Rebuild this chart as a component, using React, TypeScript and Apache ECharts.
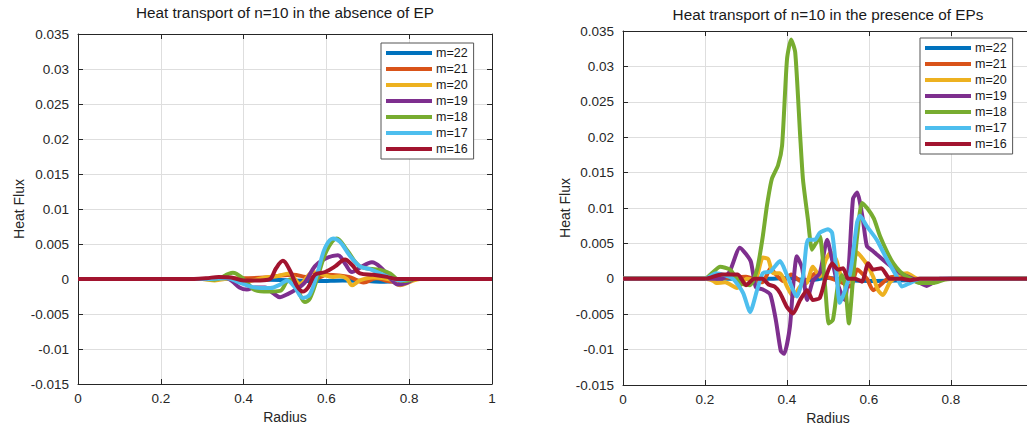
import React, { useEffect, useRef } from "react";
import * as echarts from "echarts";

const seriesNames = ["m=22", "m=21", "m=20", "m=19", "m=18", "m=17", "m=16"];
const seriesColors = ["#0072BD", "#D95319", "#EDB120", "#7E2F8E", "#77AC30", "#4DBEEE", "#A2142F"];
const xTicks = [0, 0.2, 0.4, 0.6, 0.8, 1];
const yTicks = [-0.015, -0.01, -0.005, 0, 0.005, 0.01, 0.015, 0.02, 0.025, 0.03, 0.035];
const leftTitle = "Heat transport of n=10 in the absence of EP";
const rightTitle = "Heat transport of n=10 in the presence of EPs";

// Left panel (absence of EP): [radius, heat flux]
const leftM22 = [[0,0],[0.4,0],[0.46,-0.0001],[0.52,-0.0002],[0.58,-0.0003],[0.64,-0.0002],[0.7,-0.0003],[0.74,-0.0004],[0.78,-0.0002],[0.82,0],[1,0]];
const leftM21 = [[0,0],[0.3,0],[0.4,0.0001],[0.45,0.0002],[0.49,0.0005],[0.52,0.0006],[0.55,0.0003],[0.58,0.0002],[0.6,0.0006],[0.63,0.0005],[0.66,0.0002],[0.69,-0.0005],[0.72,0.0001],[0.75,-0.0003],[0.78,-0.0005],[0.81,0],[1,0]];
const leftM20 = [[0,0],[0.3,0],[0.33,-0.0002],[0.37,0.0001],[0.41,-0.0003],[0.45,0.0002],[0.48,0.0004],[0.51,0.0008],[0.536,-0.0007],[0.568,0.001],[0.592,0.0006],[0.616,0.0003],[0.633,0.0004],[0.65,0],[0.662,-0.0009],[0.681,-0.0002],[0.713,0.0002],[0.754,-0.0001],[0.778,-0.0009],[0.802,-0.0004],[0.826,0],[1,0]];
const leftM19 = [[0,0],[0.3,0],[0.355,0.0002],[0.372,-0.0003],[0.39,-0.0012],[0.408,-0.0015],[0.428,-0.0012],[0.452,-0.0012],[0.471,-0.002],[0.488,-0.0026],[0.505,-0.0022],[0.524,-0.0016],[0.548,-0.0005],[0.572,0.0018],[0.597,0.0029],[0.628,0.0034],[0.645,0.0022],[0.662,0.001],[0.681,0.0016],[0.71,0.0024],[0.734,0.0015],[0.754,0.0001],[0.773,-0.0008],[0.792,-0.0006],[0.814,0],[1,0]];
const leftM18 = [[0,0],[0.3,0],[0.33,-0.0001],[0.374,0.0009],[0.4,0],[0.428,-0.0016],[0.46,-0.0018],[0.488,-0.0017],[0.505,-0.0003],[0.517,0],[0.531,-0.0015],[0.548,-0.0033],[0.56,-0.0028],[0.58,0.0005],[0.6,0.004],[0.625,0.0058],[0.65,0.0041],[0.681,0.0018],[0.73,0.0013],[0.754,0.0008],[0.77,0],[0.79,-0.0003],[0.814,0],[1,0]];
const leftM17 = [[0,0],[0.3,0],[0.36,0.0001],[0.39,-0.0005],[0.428,-0.0012],[0.464,-0.0013],[0.488,-0.0008],[0.505,-0.0002],[0.524,-0.0012],[0.543,-0.0027],[0.56,-0.0022],[0.58,0.0012],[0.597,0.0045],[0.616,0.0058],[0.633,0.0053],[0.657,0.0033],[0.681,0.0018],[0.705,0.0014],[0.73,0.0008],[0.754,0.0002],[0.778,-0.0002],[0.8,0],[1,0]];
const leftM16 = [[0,0],[0.28,0],[0.31,0.0001],[0.34,0.0003],[0.37,0.0002],[0.4,-0.0002],[0.44,-0.0002],[0.464,0],[0.478,0.0015],[0.495,0.0026],[0.512,0.0012],[0.529,-0.001],[0.543,-0.0018],[0.556,-0.0012],[0.572,0.0006],[0.597,0.001],[0.621,0.0018],[0.645,0.0028],[0.662,0.002],[0.681,0.0008],[0.713,0.0006],[0.746,0.0003],[0.77,0],[1,0]];

// Right panel (presence of EPs): [radius, heat flux]
const rightM22 = [[0,0],[0.35,0],[0.4,0.0001],[0.45,-0.0002],[0.5,0.0001],[0.55,-0.0002],[0.6,-0.0003],[0.7,-0.0002],[0.8,0],[1,0]];
const rightM21 = [[0,0],[0.2,0],[0.26,0.0002],[0.3,0.0003],[0.34,-0.0005],[0.36,0.0015],[0.37,0.0008],[0.39,-0.0003],[0.41,0.0006],[0.44,-0.0006],[0.47,0.0008],[0.5,0.0002],[0.53,-0.0004],[0.555,-0.0011],[0.571,0.0013],[0.595,0],[0.61,-0.0016],[0.645,0],[0.66,0.0003],[0.7,0],[1,0]];
const rightM20 = [[0,0],[0.2,0],[0.22,-0.0003],[0.227,-0.0006],[0.249,-0.0005],[0.278,-0.0013],[0.302,0],[0.322,-0.0002],[0.341,0.003],[0.354,0.0028],[0.366,0.0008],[0.383,0.0008],[0.4,-0.0011],[0.415,-0.0025],[0.432,-0.0011],[0.449,-0.0005],[0.463,0.0017],[0.48,0.0003],[0.495,0.0027],[0.507,0.0037],[0.52,0.0027],[0.534,0],[0.549,-0.0005],[0.571,0.0037],[0.593,0.0022],[0.61,0.0003],[0.622,-0.0016],[0.634,-0.0023],[0.651,-0.0005],[0.676,0.0006],[0.693,0.0008],[0.717,0],[0.75,-0.0003],[0.8,0],[1,0]];
const rightM19 = [[0,0],[0.2,0],[0.24,0],[0.26,0.001],[0.285,0.0044],[0.3,0.0035],[0.312,0.0024],[0.324,-0.0012],[0.341,-0.0015],[0.359,-0.0022],[0.373,-0.0059],[0.385,-0.0102],[0.393,-0.0106],[0.407,-0.0068],[0.415,-0.001],[0.424,0.0032],[0.437,0.0015],[0.449,-0.003],[0.463,-0.0003],[0.48,0.0008],[0.498,0.0055],[0.51,0.0027],[0.52,0],[0.529,-0.0016],[0.541,-0.003],[0.551,0.002],[0.561,0.0113],[0.571,0.0122],[0.585,0.0084],[0.595,0.0046],[0.61,0.0039],[0.644,0.0022],[0.676,0.0008],[0.707,0],[0.741,-0.001],[0.773,0],[0.8,0],[1,0]];
const rightM18 = [[0,0],[0.2,0],[0.217,0.0008],[0.237,0.0017],[0.261,0.0013],[0.285,-0.0006],[0.31,-0.0009],[0.327,0.0013],[0.341,0.006],[0.351,0.0103],[0.363,0.0141],[0.378,0.016],[0.388,0.0188],[0.4,0.031],[0.41,0.0338],[0.42,0.032],[0.432,0.0203],[0.439,0.014],[0.451,0.0084],[0.461,0.0041],[0.471,0.0051],[0.48,0.006],[0.493,-0.0011],[0.502,-0.0063],[0.512,-0.0058],[0.524,-0.001],[0.534,0.0005],[0.542,-0.001],[0.551,-0.0063],[0.561,0],[0.571,0.006],[0.583,0.0107],[0.598,0.0098],[0.612,0.0085],[0.627,0.006],[0.644,0.0038],[0.659,0.0022],[0.676,0.001],[0.693,0.0003],[0.724,-0.0006],[0.756,-0.0006],[0.785,-0.0001],[0.82,0],[1,0]];
const rightM17 = [[0,0],[0.2,0],[0.227,0.0008],[0.268,0],[0.293,-0.002],[0.31,-0.0047],[0.327,-0.0016],[0.341,0.0008],[0.359,0.001],[0.383,0.0025],[0.4,0.0005],[0.424,-0.0025],[0.439,0.0003],[0.451,0.0055],[0.468,0.0055],[0.48,0.0065],[0.5,0.007],[0.51,0.0065],[0.519,0.002],[0.529,-0.0034],[0.554,0.0008],[0.571,0.008],[0.578,0.0089],[0.595,0.0074],[0.619,0.0055],[0.644,0.0027],[0.668,0.0003],[0.68,-0.0011],[0.7,-0.0006],[0.724,0],[1,0]];
const rightM16 = [[0,0],[0.2,0],[0.24,0.0006],[0.28,0.0006],[0.3,-0.0009],[0.32,0],[0.34,0],[0.355,-0.0008],[0.37,-0.0011],[0.383,-0.002],[0.4,-0.004],[0.415,-0.0049],[0.432,-0.003],[0.449,-0.0016],[0.463,-0.003],[0.48,-0.0027],[0.495,0.0003],[0.51,0.0022],[0.524,0.0013],[0.537,0.0015],[0.549,0],[0.566,0],[0.583,-0.0004],[0.598,0.0022],[0.61,0.0013],[0.63,0.0015],[0.651,0],[0.68,0],[0.7,-0.0002],[0.724,0],[1,0]];

const leftData = [leftM22, leftM21, leftM20, leftM19, leftM18, leftM17, leftM16];
const rightData = [rightM22, rightM21, rightM20, rightM19, rightM18, rightM17, rightM16];

const FONT = "'Liberation Sans', Arial, Helvetica, sans-serif";
const AX = "#262626";

const fmtY = (v: number) => String(+v.toFixed(4));
const fmtX = (v: number) => String(+v.toFixed(2));
// the right panel runs past the page edge, so its last tick label is not seen
const fmtXCut = (v: number) => (v >= 0.999 ? "" : String(+v.toFixed(2)));

function xAxes(gridIndex: number, formatter: (v: number) => string) {
  const base = {
    type: "value",
    gridIndex,
    min: xTicks[0],
    max: xTicks[xTicks.length - 1],
    interval: 0.2,
    axisLine: { show: true, onZero: false, lineStyle: { color: AX, width: 1 } },
    axisTick: { show: true, inside: true, length: 5, lineStyle: { color: AX } },
  };
  return [
    {
      ...base,
      position: "bottom",
      name: "Radius",
      nameLocation: "middle",
      nameGap: 24,
      nameTextStyle: { fontFamily: FONT, fontSize: 14, color: AX },
      axisLabel: { fontFamily: FONT, fontSize: 13.5, color: AX, margin: 7, formatter, hideOverlap: false },
      splitLine: { show: true, lineStyle: { color: "#dedede", width: 1 } },
    },
    {
      ...base,
      position: "top",
      axisLabel: { show: false },
      splitLine: { show: false },
    },
  ];
}

function yAxes(gridIndex: number, nameGap: number, showRight: boolean) {
  const base = {
    type: "value",
    gridIndex,
    min: -0.015,
    max: 0.035,
    interval: 0.005,
    axisLine: { show: true, onZero: false, lineStyle: { color: AX, width: 1 } },
    axisTick: { show: true, inside: true, length: 5, lineStyle: { color: AX } },
  };
  return [
    {
      ...base,
      position: "left",
      name: "Heat Flux",
      nameLocation: "middle",
      nameGap,
      nameTextStyle: { fontFamily: FONT, fontSize: 14, color: AX },
      axisLabel: { fontFamily: FONT, fontSize: 13.5, color: AX, margin: 9, formatter: fmtY },
      splitLine: { show: true, lineStyle: { color: "#dedede", width: 1 } },
    },
    {
      ...base,
      position: "right",
      show: showRight,
      axisLabel: { show: false },
      splitLine: { show: false },
    },
  ];
}

function legend(left: number, top: number) {
  return {
    orient: "vertical",
    left,
    top,
    data: seriesNames,
    icon: "rect",
    itemWidth: 46,
    itemHeight: 4,
    itemGap: 2,
    padding: [3, 6, 3, 5],
    backgroundColor: "#ffffff",
    borderColor: "#555555",
    borderWidth: 1,
    borderRadius: 0,
    selectedMode: false,
    textStyle: { fontFamily: FONT, fontSize: 12.5, color: "#1a1a1a", lineHeight: 14, padding: [0, 0, 0, -1] },
  };
}

export default function App() {
  const ref = useRef<HTMLDivElement>(null);
  useEffect(() => {
    if (!ref.current) return;
    const chart = echarts.init(ref.current, null, { renderer: "svg" });
    const mkSeries = (data: number[][][], axis: number, smooth: number) =>
      data.map((d, i) => ({
        type: "line",
        name: seriesNames[i],
        xAxisIndex: axis,
        yAxisIndex: axis,
        data: d,
        showSymbol: false,
        symbol: "none",
        smooth,
        lineStyle: { width: 4, color: seriesColors[i] },
        itemStyle: { color: seriesColors[i] },
        z: 2 + i,
      }));
    chart.setOption({
      animation: false,
      backgroundColor: "#ffffff",
      grid: [
        { left: 78, top: 34, width: 414, height: 350, containLabel: false, outerBoundsMode: "none" },
        { left: 623, top: 31, width: 410, height: 354, containLabel: false, outerBoundsMode: "none" },
      ],
      xAxis: [...xAxes(0, fmtX), ...xAxes(1, fmtXCut)],
      yAxis: [...yAxes(0, 52, true), ...yAxes(1, 48, false)],
      legend: [legend(381, 43), legend(920, 38)],
      series: [...mkSeries(leftData, 0, 0.35), ...mkSeries(rightData, 2, 0.2)],
      graphic: [
        {
          type: "text",
          x: 285,
          y: 12,
          style: { text: leftTitle, fontFamily: FONT, fontSize: 15.3, fill: "#1a1a1a", align: "center", verticalAlign: "middle" },
        },
        {
          type: "text",
          x: 828,
          y: 14,
          style: { text: rightTitle, fontFamily: FONT, fontSize: 15.3, fill: "#1a1a1a", align: "center", verticalAlign: "middle" },
        },
      ],
    });
    return () => chart.dispose();
  }, []);
  return <div ref={ref} style={{ position: "fixed", left: 0, top: 0, width: 1027, height: 427 }} />;
}
